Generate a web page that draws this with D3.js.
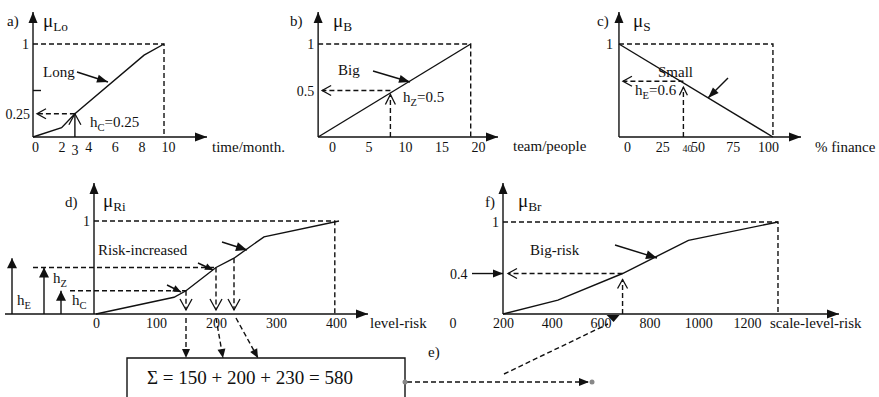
<!DOCTYPE html>
<html>
<head>
<meta charset="utf-8">
<script src="https://cdn.jsdelivr.net/npm/d3@7"></script>
<style>
  body { margin: 0; background: #fff; }
  text { font-family: "Liberation Serif", "Times New Roman", Tinos, "DejaVu Serif", "Noto Serif", Times, serif; fill: #111; }
</style>
</head>
<body>
<svg id="chart" width="879" height="397"></svg>
<script>
// a) long time
const aTicks = [0, 2, 4, 6, 8, 10];
const aCurve = [[-0.15, 0], [2, 0.1], [3, 0.25], [8.2, 0.88], [9.7, 1]];
const aCut = [3, 0.25];
// b) big team
const bTicks = [0, 5, 10, 15, 20];
const bCurve = [[-1.9, 0], [19, 1]];
const bCut = [8, 0.5];
// c) small finance
const cTicks = [0, 25, 50, 75, 100];
const cCurve = [[-5.7, 1], [103.5, 0]];
const cCut = [40, 0.6];
// d) risk increased
const dTicks = [0, 100, 200, 300, 400];
const dCurve = [[0, 0], [130, 0.18], [150, 0.25], [200, 0.5], [230, 0.6], [280, 0.83], [405, 1]];
const dCuts = [[150, 0.25], [200, 0.5], [230, 0.6]];
const dEnd = 398;
// f) big risk
const fTicks = [200, 400, 600, 800, 1000, 1200];
const fCurve = [[200, 0], [425, 0.15], [690, 0.44], [960, 0.8], [1327, 1]];
const fCut = [690, 0.44];
// e) sum
const sumTerms = [150, 200, 230];

const svg = d3.select("#chart");
const g = svg.append("g");

function line(pts, dash, w) {
  return g.append("path").attr("d", d3.line()(pts)).attr("fill", "none")
    .attr("stroke", "#111").attr("stroke-width", w || 1.4)
    .attr("stroke-dasharray", dash ? "5,3" : null);
}
function head(tip, from, len, hw, filled) {
  const dx = tip[0] - from[0], dy = tip[1] - from[1], L = Math.hypot(dx, dy);
  const ux = dx / L, uy = dy / L;
  const bx = tip[0] - ux * len, by = tip[1] - uy * len;
  const p1 = [bx - uy * hw, by + ux * hw], p2 = [bx + uy * hw, by - ux * hw];
  if (filled) g.append("path").attr("d", d3.line()([p1, tip, p2]) + "Z").attr("fill", "#111");
  else line([p1, tip, p2], false, 1.3);
}
function arrow(from, tip, dash, filled, len, hw) {
  line([from, tip], dash);
  head(tip, from, len || 10, hw || 4, filled);
}
// parts: [text, sub]
function label(x, y, parts, size, anchor) {
  const t = g.append("text").attr("x", x).attr("y", y).attr("font-size", size)
    .attr("text-anchor", anchor || "start");
  let shifted = false;
  parts.forEach(p => {
    const s = t.append("tspan").text(p[0]);
    if (p[1]) { s.attr("font-size", size * 0.7).attr("dy", shifted ? 0 : 4); shifted = true; }
    else { if (shifted) s.attr("dy", -4); shifted = false; }
  });
  return t;
}
function axes(x0, y0, yTip, xLeft, xTip) {
  arrow([x0, y0], [x0, yTip], false, true, 11, 4.5);
  arrow([xLeft, y0], [xTip, y0], false, true, 12, 4.5);
}
function ticks(scale, vals, y, pad) {
  const ax = g.append("g").attr("transform", `translate(0,${y})`)
    .call(d3.axisBottom(scale).tickValues(vals).tickSize(0).tickPadding(pad).tickFormat(d3.format("d")));
  ax.select(".domain").remove();
  ax.attr("font-family", null);
  ax.selectAll("text").attr("font-size", 14).attr("fill", "#111");
}
function curve(data, x, y) {
  line(data.map(d => [x(d[0]), y(d[1])]), false, 1.4);
}

// ---------- a)
const xa = d3.scaleLinear().domain([0, 10]).range([35, 168]);
const ya = d3.scaleLinear().domain([0, 1]).range([137, 44]);
const axA = xa(aCurve[0][0]);
const endA = xa(aCurve[aCurve.length - 1][0]);
axes(axA, 137, 12, axA, 207);
line([[axA, ya(1)], [endA, ya(1)], [endA, 137]], true);
line([[axA, ya(0.5)], [axA + 8, ya(0.5)]]);
curve(aCurve, xa, ya);
arrow([xa(aCut[0]), ya(aCut[1])], [axA + 4, ya(aCut[1])], true, false, 9, 5);
arrow([xa(aCut[0]), 137], [xa(aCut[0]), ya(aCut[1])], false, false, 11, 6);
ticks(xa, aTicks, 137, 5);
label(xa(aCut[0]), 155, [["3"]], 14, "middle");
label(axA - 4, ya(1) + 5, [["1"]], 14, "end");
label(axA - 3, ya(aCut[1]) + 5, [["0.25"]], 14, "end");
label(7, 26, [["a)"]], 15);
label(43, 27, [["μ"], ["Lo", 1]], 19);
label(43, 77, [["Long"]], 15);
arrow([77, 72], [108, 82], false, true, 11, 4);
label(90, 127, [["h"], ["C", 1], ["=0.25"]], 15);
label(212, 152, [["time/month."]], 15);

// ---------- b)
const xb = d3.scaleLinear().domain([0, 20]).range([332, 478]);
const yb = ya;
const axB = xb(bCurve[0][0]);
const endB = xb(bCurve[1][0]);
axes(axB, 137, 12, axB, 498);
line([[axB, yb(1)], [endB, yb(1)], [endB, 137]], true);
curve(bCurve, xb, yb);
arrow([xb(bCut[0]), yb(bCut[1])], [axB + 4, yb(bCut[1])], true, false, 9, 5);
arrow([xb(bCut[0]), 137], [xb(bCut[0]), yb(bCut[1]) + 4], true, false, 10, 5);
ticks(xb, bTicks, 137, 5);
label(axB - 4, yb(1) + 5, [["1"]], 14, "end");
label(axB - 4, yb(bCut[1]) + 5, [["0.5"]], 14, "end");
label(290, 26, [["b)"]], 15);
label(333, 27, [["μ"], ["B", 1]], 19);
label(338, 75, [["Big"]], 15);
arrow([373, 71], [410, 82], false, true, 11, 4);
label(403, 102, [["h"], ["Z", 1], ["=0.5"]], 15);
label(513, 151, [["team/people"]], 15);

// ---------- c)
const xc = d3.scaleLinear().domain([0, 100]).range([627, 768]);
const yc = ya;
const axC = xc(cCurve[0][0]);
const endC = xc(cCurve[1][0]);
axes(axC, 137, 12, axC, 801);
line([[axC, yc(1)], [endC, yc(1)], [endC, 137]], true);
curve(cCurve, xc, yc);
arrow([xc(cCut[0]), yc(cCut[1])], [axC + 4, yc(cCut[1])], true, false, 9, 5);
arrow([xc(cCut[0]), 137], [xc(cCut[0]), yc(cCut[1]) + 6], true, false, 8, 4);
ticks(xc, cTicks, 137, 5);
label(xc(cCut[0]) + 4, 152, [[String(cCut[0])]], 10, "middle");
label(axC - 6, yc(1) + 5, [["1"]], 14, "end");
label(597, 26, [["c)"]], 15);
label(633, 27, [["μ"], ["S", 1]], 19);
label(658, 77, [["Small"]], 15);
arrow([728, 78], [708, 98], false, true, 11, 4);
label(635, 95, [["h"], ["E", 1], ["=0.6"]], 15);
label(815, 152, [["% finance"]], 15);

// ---------- d)
const xd = d3.scaleLinear().domain([0, 400]).range([96, 336]);
const yd = d3.scaleLinear().domain([0, 1]).range([314, 221]);
const axD = 94;
axes(axD, 314, 183, 5, 368);
line([[axD, yd(1)], [xd(dEnd), yd(1)], [xd(dEnd), 314]], true);
curve(dCurve, xd, yd);
// left level arrows hE, hZ, hC
const dLeft = [[12, dCuts[2][1], "E", 17, 305], [44, dCuts[1][1], "Z", 53, 283], [61, dCuts[0][1], "C", 72, 305]];
dLeft.forEach(d => {
  arrow([d[0], 314], [d[0], yd(d[1])], false, true, 10, 5);
  label(d[3], d[4], [["h"], [d[2], 1]], 15);
});
line([[33, yd(dCuts[1][1])], [xd(dCuts[1][0]), yd(dCuts[1][1])]], true);
line([[70, yd(dCuts[0][1])], [xd(dCuts[0][0]), yd(dCuts[0][1])]], true);
dCuts.forEach(c => {
  arrow([xd(c[0]), yd(c[1])], [xd(c[0]), 310], true, false, 11, 6);
});
// small pointer arrows
arrow([222, 242], [247, 250], false, true, 11, 4.5);
arrow([198, 263], [213, 270], false, true, 8, 3.5);
arrow([167, 285], [181, 292], false, true, 8, 3.5);
ticks(xd, dTicks, 314, 4);
label(axD - 4, yd(1) + 5, [["1"]], 14, "end");
label(65, 207, [["d)"]], 15);
label(103, 207, [["μ"], ["Ri", 1]], 19);
label(98, 255, [["Risk-increased"]], 15);
label(370, 328, [["level-risk"]], 15);

// ---------- e) sum box
const boxX = 127, boxR = 405, boxTop = 358;
line([[boxX, 400], [boxX, boxTop], [boxR, boxTop], [boxR, 400]], false, 1.4);
const boxTargets = [186, 223, 258];
dCuts.forEach((c, i) => {
  arrow([xd(c[0]) + (i === 2 ? 2 : 0), 318], [boxTargets[i], boxTop], true, true, 9, 4);
});
const total = d3.sum(sumTerms);
label(147, 384, [["Σ = " + sumTerms.join(" + ") + " = " + total]], 19);
label(428, 357, [["e)"]], 15);
arrow([407, 382], [589, 382], true, true, 10, 4);
g.append("circle").attr("cx", boxR).attr("cy", 382).attr("r", 2.5).attr("fill", "#888");
g.append("circle").attr("cx", 592).attr("cy", 382).attr("r", 2.5).attr("fill", "#888");
line([[504, 374], [608, 324]], true);

// ---------- f)
const xf = d3.scaleLinear().domain([200, 1200]).range([503, 747]);
const yf = d3.scaleLinear().domain([0, 1]).range([314, 222]);
const axF = xf(fCurve[0][0]);
const endF = xf(fCurve[fCurve.length - 1][0]);
axes(axF, 314, 183, axF, 839);
line([[axF, yf(1)], [endF, yf(1)], [endF, 314]], true);
curve(fCurve, xf, yf);
arrow([xf(fCut[0]), yf(fCut[1])], [axF + 5, yf(fCut[1])], true, false, 9, 5);
arrow([xf(fCut[0]), 314], [xf(fCut[0]), yf(fCut[1]) + 6], true, false, 9, 5);
arrow([472, yf(fCut[1])], [axF, yf(fCut[1])], false, true, 10, 4);
g.append("path").attr("d", d3.line()([[xf(fCut[0]) - 16, 315], [xf(fCut[0]) - 3, 315], [xf(fCut[0]) - 9, 322]]) + "Z").attr("fill", "#111");
ticks(xf, fTicks, 314, 4);
label(axF - 50, 328, [["0"]], 14, "middle");
label(axF - 4, yf(1) + 5, [["1"]], 14, "end");
label(450, yf(fCut[1]) + 5, [["0.4"]], 14);
label(485, 207, [["f)"]], 15);
label(518, 207, [["μ"], ["Br", 1]], 19);
label(530, 255, [["Big-risk"]], 15);
arrow([615, 245], [657, 258], false, true, 11, 4.5);
label(770, 328, [["scale-level-risk"]], 15);
</script>
</body>
</html>
